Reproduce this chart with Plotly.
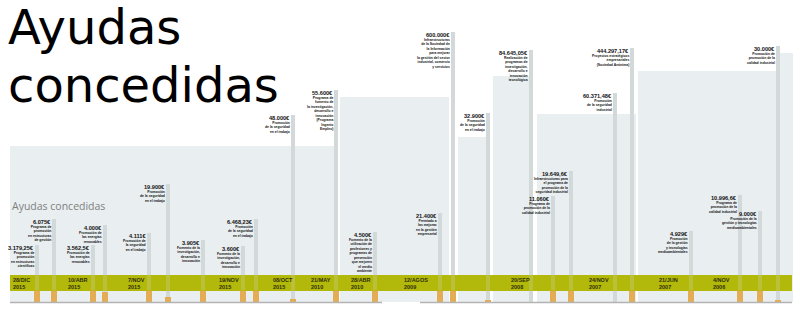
import plotly.graph_objects as go

# ---------------- DATA ----------------
fechas_dia = ["28/DIC", "10/ABR", "7/NOV", "19/NOV", "08/OCT", "21/MAY",
              "28/ABR", "12/AGOS", "20/SEP", "24/NOV", "21/JUN", "4/NOV"]
fechas_anio = ["2015", "2015", "2015", "2015", "2015", "2010",
               "2010", "2009", "2008", "2007", "2007", "2006"]

importes = ["3.179,25€", "6.075€", "3.562,5€", "4.000€", "4.111€", "19.900€",
            "3.905€", "3.600€", "6.468,23€", "48.000€", "55.600€", "4.500€",
            "21.400€", "600.000€", "32.900€", "84.645,05€", "11.060€", "19.649,6€",
            "60.371,48€", "444.297,17€", "4.929€", "10.996,6€", "9.000€", "30.000€"]

descripciones = [
    "Programa de<br>promoción<br>en estructuras<br>científicas",
    "Programa de<br>promoción<br>en estructuras<br>de gestión",
    "Promoción de<br>las energías<br>renovables",
    "Promoción de<br>las energías<br>renovables",
    "Promoción de<br>la seguridad<br>en el trabajo",
    "Promoción<br>de la seguridad<br>en el trabajo",
    "Fomento de la<br>investigación,<br>desarrollo e<br>innovación",
    "Fomento de la<br>investigación,<br>desarrollo e<br>innovación",
    "Promoción<br>de la seguridad<br>en el trabajo",
    "Promoción<br>de la seguridad<br>en el trabajo",
    "Programa de<br>fomento de<br>la investigación,<br>desarrollo e<br>innovación<br>(Programa<br>Ingenio<br>Empleo)",
    "Fomento de la<br>utilización de<br>profesiones y<br>programas de<br>prevención<br>que mejoren<br>el medio<br>ambiente",
    "Premiado a<br>las mejoras<br>en la gestión<br>empresarial",
    "Infraestructuras<br>de la Sociedad de<br>la Información<br>para mejorar<br>la gestión del sector<br>industrial, comercio<br>y servicios",
    "Promoción<br>de la seguridad<br>en el trabajo",
    "Realización de<br>programas de<br>investigación,<br>desarrollo e<br>innovación<br>tecnológica",
    "Programa de<br>promoción de la<br>calidad industrial",
    "Infraestructuras para<br>el programa de<br>promoción de la<br>seguridad industrial",
    "Promoción<br>de la seguridad<br>industrial",
    "Proyectos estratégicos<br>empresariales<br>(Sociedad Anónima)",
    "Promoción<br>de la gestión<br>y tecnologías<br>medioambientales",
    "Programa de<br>promoción de la<br>calidad industrial",
    "Promoción de la<br>gestión y tecnologías<br>medioambientales",
    "Promoción de<br>promoción de la<br>calidad industrial",
]

# visual height of each pole (as drawn in the infographic, not to scale)
alturas = [57, 83, 57, 77, 69, 118, 62, 56, 83, 187, 212, 70,
           89, 270, 189, 252, 106, 131, 209, 254, 71, 107, 91, 256]
# height of the orange stamp at the foot of each pole
sellos = [12, 12, 12, 10, 12, 5, 12, 12, 12, 3, 12, 12,
          12, 12, 2, 0, 12, 12, 0, 12, 12, 12, 12, 2]

# ---------------- LAYOUT (positions / styles) ----------------
pos_postes = [37, 54, 93, 105, 149, 168, 203, 243, 256, 293, 336, 375,
              440, 453, 488, 531, 553, 571, 615, 632, 691, 740, 760, 778]
pos_fechas = [12, 67, 127, 218, 272, 310, 350, 403, 510, 588, 658, 712]
paneles = [(10, 335, 156), (340, 449, 205), (458, 490, 165), (493, 532, 226),
           (537, 636, 188), (638, 776, 231), (779, 793, 249)]

C_PANEL = "#e9eef0"
C_POSTE = "#d3d8d9"
C_BANDA = "#b3b90a"
C_SELLO = "#e3ad55"
C_TEXTO = "#111111"

fig = go.Figure()

fig.add_trace(go.Bar(x=pos_postes, y=alturas, width=4.5,
                     marker=dict(color=C_POSTE, line=dict(width=0)),
                     hoverinfo="skip", showlegend=False))
fig.add_trace(go.Bar(x=pos_postes, y=sellos, width=6,
                     marker=dict(color=C_SELLO, line=dict(width=0)),
                     hoverinfo="skip", showlegend=False))

shapes = []
for x0, x1, top in paneles:
    shapes.append(dict(type="rect", xref="x", yref="y", x0=x0, x1=x1, y0=0, y1=top,
                       fillcolor=C_PANEL, line=dict(width=0), layer="below"))
# green date band (opaque under, translucent over the poles)
shapes.append(dict(type="rect", xref="x", yref="y", x0=10, x1=792, y0=11, y1=27,
                   fillcolor=C_BANDA, line=dict(width=0), layer="below"))
shapes.append(dict(type="rect", xref="x", yref="y", x0=10, x1=792, y0=11, y1=27,
                   fillcolor="rgba(179,185,10,0.78)", line=dict(width=0), layer="above"))
# baseline
for a, b in [(10, 382), (420, 792)]:
    shapes.append(dict(type="line", xref="x", yref="y", x0=a, x1=b, y0=-0.5, y1=-0.5,
                       line=dict(color="#b3b3b3", width=1.5), layer="above"))

ann = []
for x, h, imp, desc in zip(pos_postes, alturas, importes, descripciones):
    ann.append(dict(x=x - 2.5, y=h + 1.5, xref="x", yref="y", text="<b>" + imp + "</b>",
                    xanchor="right", yanchor="top", showarrow=False, borderpad=0,
                    font=dict(family="Liberation Sans", size=5.6, color=C_TEXTO)))
    ann.append(dict(x=x - 2.5, y=h - 5, xref="x", yref="y", text="<b>" + desc + "</b>",
                    align="right", xanchor="right", yanchor="top", showarrow=False,
                    borderpad=0,
                    font=dict(family="Liberation Sans", size=3.4, color=C_TEXTO)))

for x, d, a in zip(pos_fechas, fechas_dia, fechas_anio):
    ann.append(dict(x=x, y=18.5, xref="x", yref="y", text="<b>" + d + "<br>" + a + "</b>",
                    align="left", xanchor="left", yanchor="middle", showarrow=False,
                    borderpad=0,
                    font=dict(family="Liberation Sans", size=5.5, color="#2e2e08")))

ann.append(dict(x=7, y=302 - 27, xref="x", yref="y", text="Ayudas", xanchor="left",
                yanchor="middle", showarrow=False, borderpad=0,
                font=dict(family="DejaVu Sans", size=48, color="#000000")))
ann.append(dict(x=7, y=302 - 85, xref="x", yref="y", text="concedidas", xanchor="left",
                yanchor="middle", showarrow=False, borderpad=0,
                font=dict(family="DejaVu Sans", size=48, color="#000000")))
ann.append(dict(x=10, y=302 - 206, xref="x", yref="y", text="Ayudas concedidas",
                xanchor="left", yanchor="middle", showarrow=False,
                font=dict(family="Open Sans", size=10.5, color="#808080")))

fig.update_layout(
    width=800, height=310, margin=dict(l=0, r=0, t=0, b=0),
    paper_bgcolor="white", plot_bgcolor="white",
    barmode="overlay", bargap=0,
    xaxis=dict(range=[0, 800], visible=False, fixedrange=True),
    yaxis=dict(range=[-8, 302], visible=False, fixedrange=True),
    shapes=shapes, annotations=ann, showlegend=False,
)

fig.write_html("out.html", config={"displayModeBar": False})
